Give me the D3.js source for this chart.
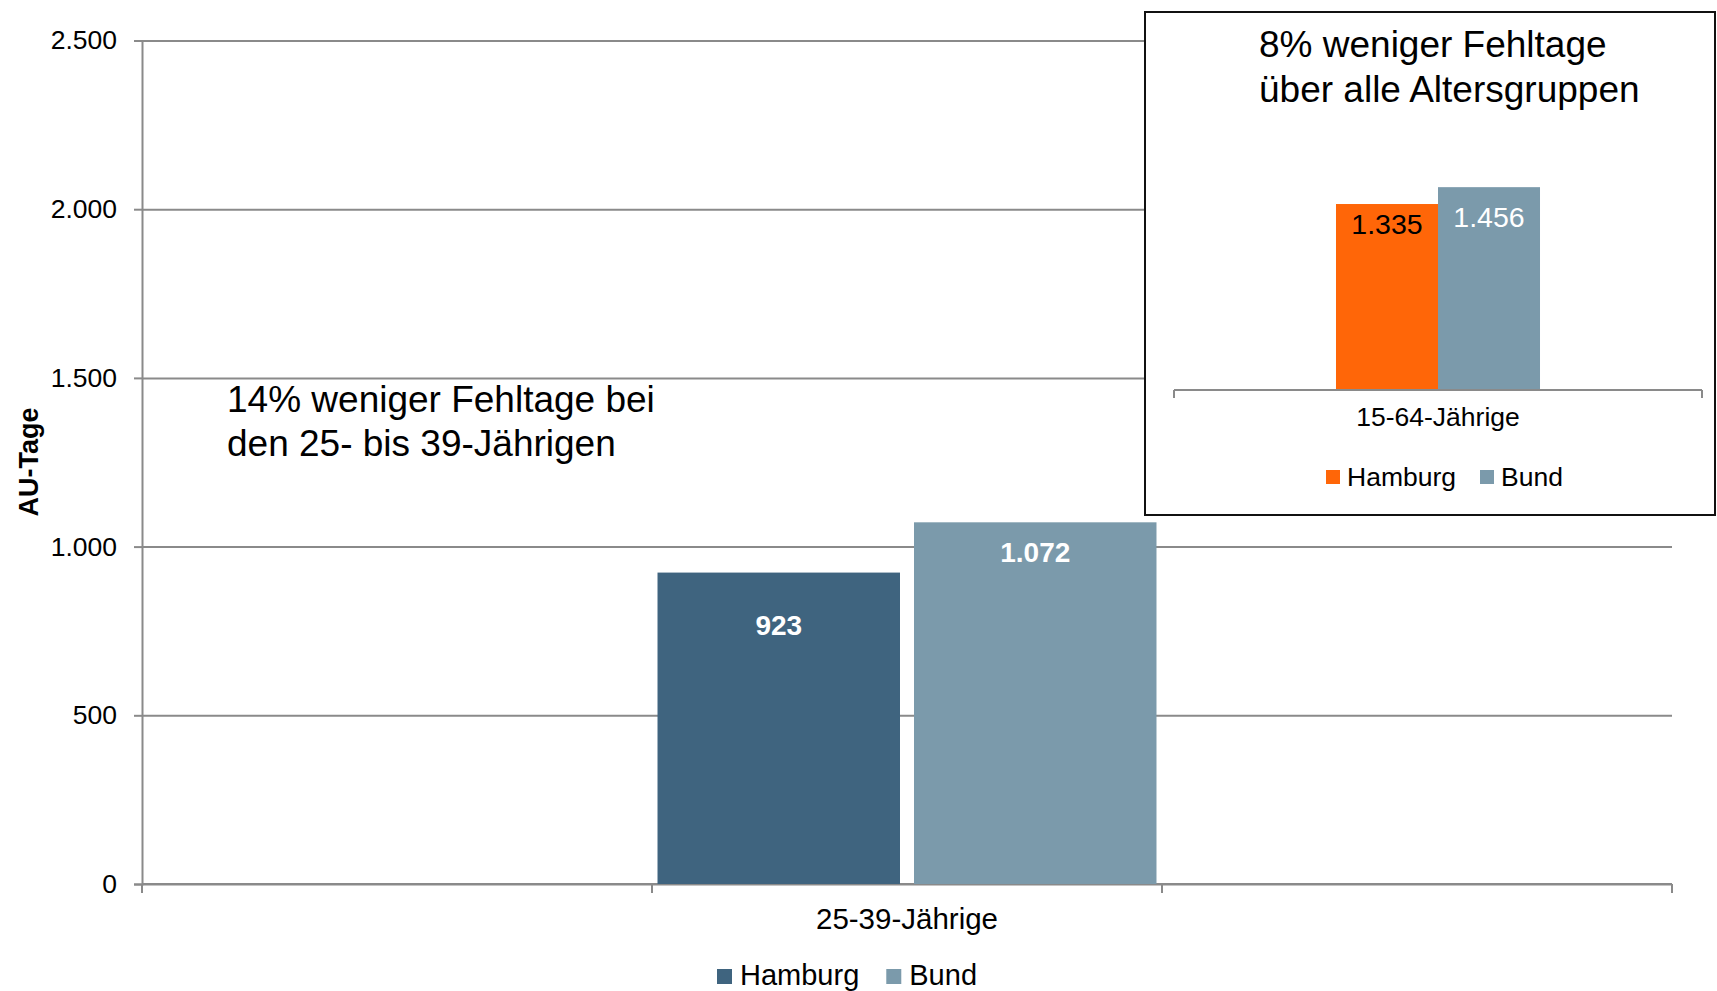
<!DOCTYPE html>
<html>
<head>
<meta charset="utf-8">
<script src="https://cdn.jsdelivr.net/npm/d3@7"></script>
<style>
  html, body { margin: 0; padding: 0; background: #fff; }
  svg { display: block; font-family: "Liberation Sans", Arial, Helvetica, sans-serif; }
</style>
</head>
<body>
<svg id="chart" width="1717" height="991"></svg>
<script>
// Daten
const categories = ["", "25-39-Jährige", ""];
const series = ["Hamburg", "Bund"];
const hamburgValues = [null, 923, null];
const bundValues = [null, 1072, null];
const yTicks = [0, 500, 1000, 1500, 2000, 2500];

const insetCategories = ["15-64-Jährige"];
const insetHamburg = [1335];
const insetBund = [1456];

const mainNote = ["14% weniger Fehltage bei", "den 25- bis 39-Jährigen"];
const insetNote = ["8% weniger Fehltage", "über alle Altersgruppen"];

const values = { Hamburg: hamburgValues, Bund: bundValues };
const insetValues = { Hamburg: insetHamburg, Bund: insetBund };

const de = d3.formatLocale({ decimal: ",", thousands: ".", grouping: [3], currency: ["", " €"] });
const fmt = de.format(",d");

const gridColor = "#8a8a8a";
const mainColors = { Hamburg: "#3f647f", Bund: "#7b9aab" };
const insetColors = { Hamburg: "#ff6608", Bund: "#7b9aab" };

const svg = d3.select("#chart");

// --- Hauptdiagramm ---
const plot = { left: 142, right: 1672, top: 40.5, bottom: 884 };

const y = d3.scaleLinear()
    .domain([0, 2500])
    .range([plot.bottom, plot.top]);

const x0 = d3.scaleBand()
    .domain(d3.range(categories.length))
    .range([plot.left, plot.right])
    .paddingInner(0.0216)
    .paddingOuter(0.0108);

const x1 = d3.scaleBand()
    .domain(series)
    .range([0, x0.bandwidth()])
    .paddingInner(0.0546);

// Gitternetz
svg.append("g")
    .attr("transform", `translate(${plot.left},0)`)
    .call(d3.axisLeft(y).tickValues(yTicks).tickSize(-(plot.right - plot.left)).tickFormat(""))
    .call(g => g.select(".domain").remove())
    .call(g => g.selectAll("line").attr("stroke", gridColor).attr("stroke-width", 2));

// y-Achse
svg.append("g")
    .attr("transform", `translate(${plot.left},0)`)
    .call(d3.axisLeft(y).tickValues(yTicks).tickSize(8).tickPadding(17).tickFormat(fmt))
    .call(g => g.select(".domain").attr("stroke", gridColor).attr("stroke-width", 2))
    .call(g => g.selectAll("line").attr("stroke", gridColor).attr("stroke-width", 2))
    .call(g => g.selectAll("text")
        .attr("fill", "#000")
        .style("font-size", "26.5px")
        .style("font-family", "'Liberation Sans', Arial, sans-serif"));

svg.append("text")
    .attr("transform", `translate(38,462) rotate(-90)`)
    .attr("text-anchor", "middle")
    .style("font-size", "27px")
    .style("font-weight", "bold")
    .text("AU-Tage");

// x-Achse mit Teilstrichen an den Kategoriegrenzen
const boundaries = d3.range(categories.length + 1)
    .map(i => x0(0) - x0.paddingInner() * x0.step() / 2 + i * x0.step());

svg.append("line")
    .attr("x1", plot.left).attr("x2", plot.right)
    .attr("y1", y(0)).attr("y2", y(0))
    .attr("stroke", gridColor).attr("stroke-width", 2);

svg.selectAll(".xtick")
    .data(boundaries)
    .enter()
    .append("line")
    .attr("class", "xtick")
    .attr("x1", d => d).attr("x2", d => d)
    .attr("y1", y(0)).attr("y2", y(0) + 9)
    .attr("stroke", gridColor).attr("stroke-width", 2);

svg.selectAll(".xlabel")
    .data(categories.map((c, i) => ({ c, i })).filter(d => d.c !== ""))
    .enter()
    .append("text")
    .attr("class", "xlabel")
    .attr("x", d => x0(d.i) + x0.bandwidth() / 2)
    .attr("y", 929)
    .attr("text-anchor", "middle")
    .style("font-size", "29.5px")
    .text(d => d.c);

// Balken
const labelDy = { Hamburg: 62, Bund: 40 };

const barData = [];
categories.forEach((c, i) => {
    series.forEach(s => {
        const v = values[s][i];
        if (v != null) barData.push({ i, s, v });
    });
});

svg.selectAll(".bar")
    .data(barData)
    .enter()
    .append("rect")
    .attr("class", "bar")
    .attr("x", d => x0(d.i) + x1(d.s))
    .attr("y", d => y(d.v))
    .attr("width", x1.bandwidth())
    .attr("height", d => y(0) - y(d.v))
    .attr("fill", d => mainColors[d.s]);

svg.selectAll(".barlabel")
    .data(barData)
    .enter()
    .append("text")
    .attr("class", "barlabel")
    .attr("x", d => x0(d.i) + x1(d.s) + x1.bandwidth() / 2)
    .attr("y", d => y(d.v) + labelDy[d.s])
    .attr("text-anchor", "middle")
    .attr("fill", "#fff")
    .style("font-size", "28px")
    .style("font-weight", "bold")
    .text(d => fmt(d.v));

// Anmerkung links
svg.append("text")
    .attr("x", 227)
    .attr("y", 412)
    .style("font-size", "37px")
    .selectAll("tspan")
    .data(mainNote)
    .enter()
    .append("tspan")
    .attr("x", 227)
    .attr("dy", (d, i) => i === 0 ? 0 : 43.5)
    .text(d => d);

// Legende unten
function drawLegend(g, colors, opts) {
    let cx = opts.x;
    series.forEach(s => {
        g.append("rect")
            .attr("x", cx).attr("y", opts.sqY)
            .attr("width", opts.sq).attr("height", opts.sq)
            .attr("fill", colors[s]);
        const t = g.append("text")
            .attr("x", cx + opts.sq + opts.gap)
            .attr("y", opts.baseline)
            .style("font-size", opts.fontSize)
            .text(s);
        cx += opts.sq + opts.gap + t.node().getComputedTextLength() + opts.between;
    });
}

drawLegend(svg.append("g"), mainColors, {
    x: 717, sq: 15, sqY: 969, gap: 8, baseline: 985, fontSize: "29px", between: 27
});

// --- Einschub ---
const inset = svg.append("g");

inset.append("rect")
    .attr("x", 1145).attr("y", 12)
    .attr("width", 570).attr("height", 503)
    .attr("fill", "#fff")
    .attr("stroke", "#111")
    .attr("stroke-width", 2);

inset.append("text")
    .attr("x", 1259)
    .attr("y", 57)
    .style("font-size", "37px")
    .selectAll("tspan")
    .data(insetNote)
    .enter()
    .append("tspan")
    .attr("x", 1259)
    .attr("dy", (d, i) => i === 0 ? 0 : 45)
    .text(d => d);

const iy = d3.scaleLinear()
    .domain([0, 1600])
    .range([390, 167.1]);

const ix0 = d3.scaleBand()
    .domain(insetCategories)
    .range([1174, 1702])
    .paddingInner(0)
    .paddingOuter(0.794);

const ix1 = d3.scaleBand()
    .domain(series)
    .range([0, ix0.bandwidth()])
    .padding(0);

const insetBars = [];
insetCategories.forEach((c, i) => {
    series.forEach(s => insetBars.push({ c, s, v: insetValues[s][i] }));
});

inset.selectAll(".ibar")
    .data(insetBars)
    .enter()
    .append("rect")
    .attr("class", "ibar")
    .attr("x", d => ix0(d.c) + ix1(d.s))
    .attr("y", d => iy(d.v))
    .attr("width", ix1.bandwidth())
    .attr("height", d => iy(0) - iy(d.v))
    .attr("fill", d => insetColors[d.s]);

const insetLabelDy = { Hamburg: 30, Bund: 40 };
const insetLabelColor = { Hamburg: "#000", Bund: "#fff" };

inset.selectAll(".ilabel")
    .data(insetBars)
    .enter()
    .append("text")
    .attr("class", "ilabel")
    .attr("x", d => ix0(d.c) + ix1(d.s) + ix1.bandwidth() / 2)
    .attr("y", d => iy(d.v) + insetLabelDy[d.s])
    .attr("text-anchor", "middle")
    .attr("fill", d => insetLabelColor[d.s])
    .style("font-size", "28.5px")
    .text(d => fmt(d.v));

// Achse im Einschub
const [ia, ib] = ix0.range();
inset.append("line")
    .attr("x1", ia).attr("x2", ib)
    .attr("y1", iy(0)).attr("y2", iy(0))
    .attr("stroke", gridColor).attr("stroke-width", 2);

inset.selectAll(".itick")
    .data([ia, ib])
    .enter()
    .append("line")
    .attr("class", "itick")
    .attr("x1", d => d).attr("x2", d => d)
    .attr("y1", iy(0)).attr("y2", iy(0) + 8)
    .attr("stroke", gridColor).attr("stroke-width", 2);

inset.selectAll(".ixlabel")
    .data(insetCategories)
    .enter()
    .append("text")
    .attr("class", "ixlabel")
    .attr("x", d => ix0(d) + ix0.bandwidth() / 2)
    .attr("y", 426)
    .attr("text-anchor", "middle")
    .style("font-size", "26.5px")
    .text(d => d);

drawLegend(inset.append("g"), insetColors, {
    x: 1326, sq: 14, sqY: 470, gap: 7, baseline: 486, fontSize: "26.5px", between: 24
});
</script>
</body>
</html>
